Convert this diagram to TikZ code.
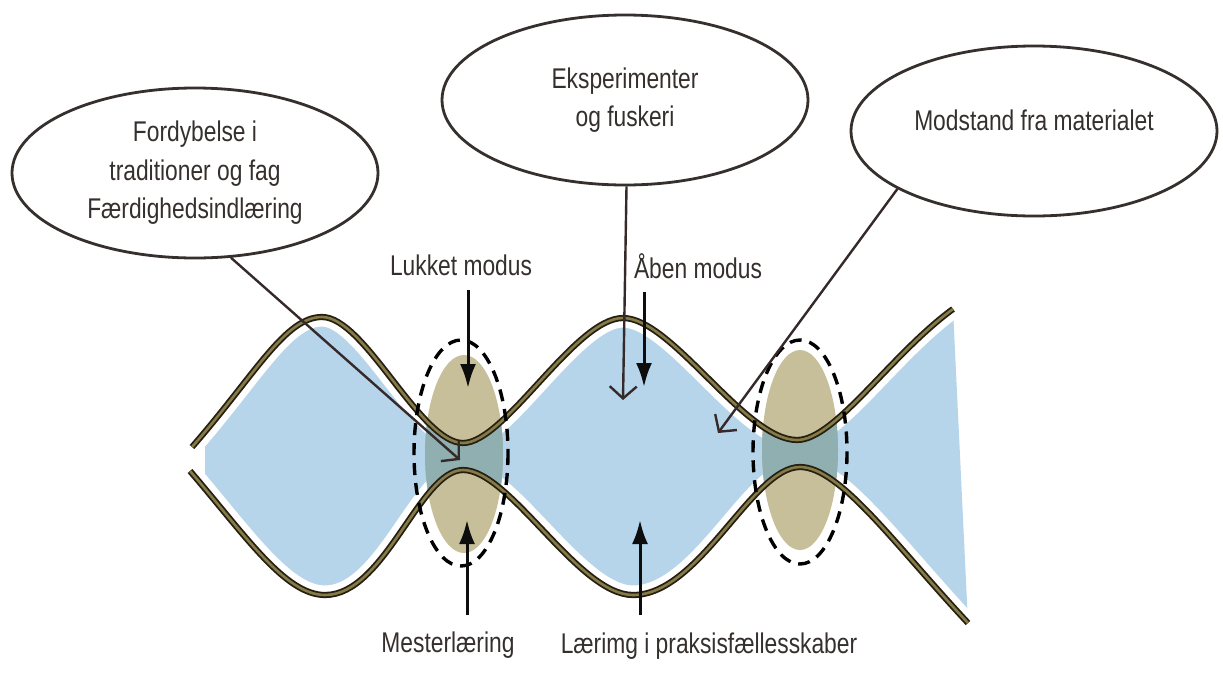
\documentclass[tikz,border=0pt]{standalone}
\usepackage{fontspec}
\setmainfont{Liberation Sans}[FakeStretch=0.8]
\usetikzlibrary{shapes.geometric,arrows.meta}
\definecolor{blueF}{HTML}{B6D5EA}
\definecolor{tanF}{HTML}{C7BF9A}
\definecolor{tealF}{HTML}{8FAFB0}
\definecolor{curveDark}{HTML}{241F10}
\definecolor{curveOlive}{HTML}{857A48}
\definecolor{inkC}{HTML}{35302D}
\definecolor{lineC}{HTML}{35292A}
\def\upperwave{(192,447) .. controls (255,375) and (285,317) .. (322,317) .. controls (365,317) and (420,443) .. (463,443) .. controls (505,443) and (575,318) .. (623,318) .. controls (672,318) and (745,440) .. (797,440) .. controls (835,440) and (890,355) .. (953,309)}
\def\lowerwave{(190,471) .. controls (245,535) and (285,595) .. (325,595) .. controls (385,595) and (420,470) .. (463,470) .. controls (510,470) and (578,595) .. (633,595) .. controls (700,595) and (752,467) .. (800,467) .. controls (840,467) and (895,545) .. (968,623)}
\def\lowerback{(968,623) .. controls (895,545) and (840,467) .. (800,467) .. controls (752,467) and (700,595) .. (633,595) .. controls (578,595) and (510,470) .. (463,470) .. controls (420,470) and (385,595) .. (325,595) .. controls (285,595) and (245,535) .. (190,471)}
\begin{document}
\begin{tikzpicture}[x=1pt,y=-1pt,
  bubble/.style={draw=inkC, line width=2.8pt, ellipse, minimum width=366pt, minimum height=170pt, inner sep=0pt, align=center, text=inkC, font=\fontsize{28.5}{38.5}\selectfont},
  lbl/.style={text=inkC, font=\fontsize{28.5}{38.5}\selectfont, inner sep=0pt, anchor=base},
  pointer/.style={draw=lineC, line width=2.4pt, -{Straight Barb[length=12pt,width=27pt]}},
  modearrow/.style={draw=black!95, line width=3pt, -{Latex[length=24pt,width=16pt]}},
  halo/.style={draw=white, line width=19pt},
  wave/.style={draw=curveDark, line width=1.8pt, double=curveOlive, double distance=2.6pt},
  tanzone/.style={fill=tanF},
  dashring/.style={draw=black, line width=3.4pt, dash pattern=on 12pt off 8pt}]
\useasboundingbox[fill=white] (0,0) rectangle (1223,675);

% blue channel
\begin{scope}
  \clip (205,0) rectangle (1223,675);
  \fill[blueF] \upperwave -- \lowerback -- cycle;
\end{scope}
\draw[halo] \upperwave;
\draw[halo] \lowerwave;

% tan zones
\fill[tanzone] (464,454) ellipse [x radius=39, y radius=99];
\fill[tanzone] (800,450) ellipse [x radius=38, y radius=100];
\begin{scope}
  \clip (464,454) ellipse [x radius=39, y radius=99];
  \fill[tealF] \upperwave -- \lowerback -- cycle;
\end{scope}
\begin{scope}
  \clip (800,450) ellipse [x radius=38, y radius=100];
  \fill[tealF] \upperwave -- \lowerback -- cycle;
\end{scope}

% wave strokes
\draw[wave] \upperwave;
\draw[wave] \lowerwave;

% dashed rings
\draw[dashring] (461,453) ellipse [x radius=47, y radius=113];
\draw[dashring] (800,452) ellipse [x radius=47, y radius=112];

% bubbles
\node[bubble] (e1) at (195,173) {Fordybelse i\\traditioner og fag\\Færdighedsindlæring};
\node[bubble] (e2) at (625,100) {Eksperimenter\\og fuskeri};
\node[bubble] (e3) at (1034,131) {};
\node[lbl] (e3t) at (1034,130) {Modstand fra materialet};

% pointer targets
\coordinate (t1) at (460,460);
\coordinate (t2) at (623,400);
\coordinate (t3) at (718,433);
\draw[pointer] (e1.-67) -- (t1);
\draw[pointer] (e2.-89) -- (t2);
\draw[pointer] (e3.-157.8) -- (t3);

% mode arrows
\coordinate (lk1s) at (468,290); \coordinate (lk1e) at (468,388);
\coordinate (lk2s) at (467,615); \coordinate (lk2e) at (467,520);
\coordinate (ab1s) at (644,292); \coordinate (ab1e) at (644,387);
\coordinate (ab2s) at (640,615); \coordinate (ab2e) at (640,520);
\draw[modearrow] (lk1s) -- (lk1e);
\draw[modearrow] (lk2s) -- (lk2e);
\draw[modearrow] (ab1s) -- (ab1e);
\draw[modearrow] (ab2s) -- (ab2e);

% labels
\node[lbl] (lukket) at (461,275) {Lukket modus};
\node[lbl] (aaben) at (698,278) {Åben modus};
\node[lbl] (mester) at (448,652) {Mesterlæring};
\node[lbl] (praksis) at (709,653) {Lærimg i praksisfællesskaber};
\end{tikzpicture}
\end{document}
